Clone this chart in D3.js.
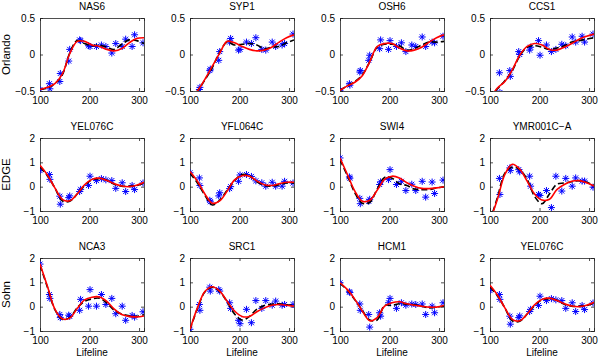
<!DOCTYPE html>
<html>
<head>
<meta charset="utf-8">
<script src="https://cdn.jsdelivr.net/npm/d3@7"></script>
<style>
body { margin: 0; background: #fff; }
text { font-family: "Liberation Sans", Arial, sans-serif; }
</style>
</head>
<body>
<div id="chart"></div>
<script>
// sample times (shared by every gene) and the x positions of the fitted curves
var times = [100, 119, 120, 140, 141, 158, 160, 180, 182, 198, 201, 214, 224, 233, 245, 253, 266, 273, 286, 291, 308];
var fitX = [100, 115, 130, 145, 160, 175, 190, 205, 220, 235, 250, 265, 280, 295, 310];

var rowLabels = ["Orlando", "EDGE", "Sohn"];
var yDomains = [[-0.5, 0.5], [-1, 2], [-1, 2]];
var yTicks = [[-0.5, 0, 0.5], [-1, 0, 1, 2], [-1, 0, 1, 2]];
var xTicks = [100, 200, 300];
var xDomain = [100, 310];

// Orlando
var nas6Pts = [-0.48, -0.40, -0.47, -0.37, -0.26, -0.09, 0.07, 0.20, 0.19, 0.12, 0.11, 0.11, 0.13, 0.11, 0.02, 0.15, 0.11, 0.21, 0.11, 0.27, 0.16];
var nas6Red = [-0.48, -0.45, -0.40, -0.27, 0.01, 0.18, 0.18, 0.13, 0.11, 0.07, 0.05, 0.08, 0.16, 0.22, 0.23];
var nas6Black = [-0.48, -0.46, -0.40, -0.28, 0.02, 0.19, 0.15, 0.12, 0.13, 0.10, 0.07, 0.14, 0.20, 0.19, 0.15];

var syp1Pts = [-0.62, -0.48, -0.45, -0.22, -0.20, -0.08, 0.04, 0.17, 0.22, 0.06, 0.07, 0.17, 0.15, 0.23, 0.07, 0.06, 0.17, 0.11, 0.13, 0.15, 0.28];
var syp1Red = [-0.62, -0.50, -0.34, -0.16, 0.02, 0.18, 0.16, 0.11, 0.07, 0.05, 0.06, 0.10, 0.17, 0.23, 0.27];
var syp1Black = [-0.62, -0.50, -0.35, -0.18, 0.03, 0.17, 0.13, 0.14, 0.15, 0.13, 0.08, 0.10, 0.11, 0.16, 0.20];

var osh6Pts = [-0.49, -0.40, -0.42, -0.24, -0.22, -0.08, -0.01, 0.08, 0.20, 0.07, 0.19, 0.11, 0.16, 0.04, 0.13, 0.11, 0.24, 0.11, 0.17, 0.16, 0.25];
var osh6Red = [-0.49, -0.43, -0.38, -0.29, -0.10, 0.11, 0.15, 0.15, 0.09, 0.05, 0.06, 0.10, 0.17, 0.23, 0.27];
var osh6Black = [-0.49, -0.43, -0.37, -0.28, -0.10, 0.10, 0.14, 0.14, 0.12, 0.06, 0.08, 0.13, 0.17, 0.17, 0.18];

var ccs1Pts = [-0.65, -0.25, -0.52, -0.22, -0.30, 0.04, 0.00, 0.06, 0.10, 0.19, -0.01, 0.13, 0.04, 0.07, 0.14, 0.12, 0.24, 0.17, 0.25, 0.17, 0.28];
var ccs1Red = [-0.60, -0.46, -0.37, -0.21, -0.01, 0.11, 0.15, 0.13, 0.07, 0.06, 0.10, 0.15, 0.21, 0.25, 0.28];
var ccs1Black = [-0.60, -0.47, -0.36, -0.22, -0.02, 0.10, 0.12, 0.10, 0.07, 0.09, 0.12, 0.17, 0.19, 0.21, 0.23];

// EDGE
var yel076cPts = [0.66, 0.50, 0.30, -0.39, -0.72, -0.45, -0.38, -0.20, -0.11, 0.05, 0.43, 0.25, 0.33, 0.28, 0.25, -0.07, 0.16, -0.20, 0.05, -0.12, 0.15];
var yel076cRed = [0.88, 0.48, -0.05, -0.52, -0.58, -0.30, 0.08, 0.30, 0.35, 0.25, 0.12, 0.03, 0.00, 0.06, 0.18];
var yel076cBlack = [0.80, 0.45, -0.05, -0.58, -0.60, -0.30, 0.05, 0.28, 0.33, 0.26, 0.10, 0.02, 0.02, 0.05, 0.15];

var yfl064cPts = [0.57, 0.36, 0.05, -0.56, -0.62, -0.38, -0.25, -0.08, 0.00, 0.22, 0.48, 0.50, 0.42, 0.24, 0.16, 0.02, 0.18, 0.02, 0.02, 0.22, 0.15];
var yfl064cRed = [0.62, 0.22, -0.30, -0.68, -0.58, -0.18, 0.28, 0.45, 0.43, 0.24, 0.08, 0.05, 0.12, 0.18, 0.18];
var yfl064cBlack = [0.55, 0.15, -0.35, -0.75, -0.55, -0.15, 0.25, 0.50, 0.45, 0.20, 0.05, 0.02, 0.08, 0.15, 0.15];

var swi4Pts = [1.18, 0.40, 0.35, -0.48, -0.70, -0.60, -0.52, 0.09, 0.20, 0.29, 0.70, 0.09, 0.22, -0.16, 0.10, -0.16, 0.22, -0.43, 0.19, -0.28, 0.27];
var swi4Red = [1.18, 0.50, -0.18, -0.60, -0.56, -0.15, 0.30, 0.43, 0.36, 0.16, 0.02, -0.07, -0.08, -0.05, 0.00];
var swi4Black = [1.10, 0.45, -0.25, -0.68, -0.65, -0.10, 0.38, 0.35, 0.12, 0.05, -0.10, -0.12, -0.12, -0.05, 0.00];

var ymr001cPts = [-1.30, 0.34, -0.32, 0.77, 0.66, 0.70, 0.61, 0.43, 0.02, -0.32, -0.36, -0.16, -0.86, 0.43, -0.18, 0.34, 0.02, 0.36, 0.23, 0.23, -0.02];
var ymr001cRed = [-1.40, -0.52, 0.50, 0.92, 0.72, 0.23, -0.30, -0.55, -0.52, -0.12, 0.09, 0.22, 0.25, 0.16, 0.03];
var ymr001cBlack = [-1.40, -0.45, 0.55, 0.80, 0.70, 0.30, -0.40, -0.70, -0.30, 0.10, 0.15, 0.20, 0.25, 0.18, 0.05];

// Sohn
var nca3Pts = [1.75, 0.50, 0.34, -0.32, -0.45, -0.35, -0.40, -0.15, 0.30, 0.02, 0.70, 0.02, 0.50, 0.09, 0.34, -0.29, 0.02, -0.56, -0.36, -0.43, -0.21];
var nca3Red = [1.75, 0.84, -0.10, -0.50, -0.47, -0.08, 0.28, 0.39, 0.40, 0.22, -0.10, -0.32, -0.40, -0.42, -0.38];
var nca3Black = [1.70, 0.80, -0.12, -0.52, -0.45, -0.05, 0.22, 0.32, 0.35, 0.15, -0.15, -0.30, -0.38, -0.40, -0.33];

var src1Pts = [-0.93, 0.09, -0.15, 0.80, 0.64, 0.70, 0.64, 0.16, -0.07, -0.56, -0.70, -0.11, -0.66, 0.25, -0.07, 0.25, 0.06, 0.23, 0.06, 0.09, 0.09];
var src1Red = [-0.93, -0.05, 0.62, 0.82, 0.64, 0.22, -0.18, -0.40, -0.40, -0.21, -0.05, 0.06, 0.09, 0.06, 0.02];
var src1Black = [-0.95, -0.08, 0.60, 0.80, 0.62, 0.20, -0.30, -0.55, -0.40, -0.10, 0.05, 0.10, 0.12, 0.08, 0.05];

var hcm1Pts = [0.98, 0.61, 0.58, 0.11, -0.15, -0.32, -0.84, -0.25, -0.39, 0.16, 0.34, -0.07, 0.16, 0.06, 0.11, 0.09, 0.11, -0.32, 0.02, -0.25, 0.16];
var hcm1Red = [0.98, 0.70, 0.30, -0.18, -0.58, -0.45, 0.02, 0.16, 0.20, 0.12, 0.06, 0.02, -0.02, -0.02, 0.05];
var hcm1Black = [0.95, 0.68, 0.28, -0.15, -0.55, -0.55, 0.05, 0.05, 0.12, 0.10, 0.08, 0.02, -0.05, -0.02, 0.02];

var panels = [
    { name: "NAS6", pts: nas6Pts, red: nas6Red, black: nas6Black },
    { name: "SYP1", pts: syp1Pts, red: syp1Red, black: syp1Black },
    { name: "OSH6", pts: osh6Pts, red: osh6Red, black: osh6Black },
    { name: "CCS1", pts: ccs1Pts, red: ccs1Red, black: ccs1Black },
    { name: "YEL076C", pts: yel076cPts, red: yel076cRed, black: yel076cBlack },
    { name: "YFL064C", pts: yfl064cPts, red: yfl064cRed, black: yfl064cBlack },
    { name: "SWI4", pts: swi4Pts, red: swi4Red, black: swi4Black },
    { name: "YMR001C\u2212A", pts: ymr001cPts, red: ymr001cRed, black: ymr001cBlack },
    { name: "NCA3", pts: nca3Pts, red: nca3Red, black: nca3Black },
    { name: "SRC1", pts: src1Pts, red: src1Red, black: src1Black },
    { name: "HCM1", pts: hcm1Pts, red: hcm1Red, black: hcm1Black },
    { name: "YEL076C", pts: yel076cPts, red: yel076cRed, black: yel076cBlack }
];

var colX = [40, 190, 340, 490];
var rowY = [18, 138, 258];
var pw = 104, ph = 73;

var svg = d3.select("#chart")
    .append("svg")
    .attr("width", 600)
    .attr("height", 359);

// asterisk marker like matlab's '*'
var s = 3.5, a = 2.5;
var star = "M" + -s + ",0L" + s + ",0M0," + -s + "L0," + s +
    "M" + -a + "," + -a + "L" + a + "," + a + "M" + -a + "," + a + "L" + a + "," + -a;

panels.forEach(function (p, i) {
    var r = Math.floor(i / 4), c = i % 4;
    var g = svg.append("g")
        .attr("transform", "translate(" + colX[c] + "," + rowY[r] + ")");

    var x = d3.scaleLinear().domain(xDomain).range([0, pw]);
    var y = d3.scaleLinear().domain(yDomains[r]).range([ph, 0]);
    var fmt = d3.format("");

    svg.append("clipPath").attr("id", "clip" + i)
        .append("rect").attr("width", pw).attr("height", ph);

    // axes, ticks pointing inward, box all round
    g.append("g").attr("class", "ax")
        .call(d3.axisLeft(y).tickValues(yTicks[r]).tickSize(-3).tickPadding(5).tickFormat(fmt));
    g.append("g").attr("class", "ax").attr("transform", "translate(" + pw + ",0)")
        .call(d3.axisRight(y).tickValues(yTicks[r]).tickSize(-3).tickFormat(""));
    g.append("g").attr("class", "ax").attr("transform", "translate(0," + ph + ")")
        .call(d3.axisBottom(x).tickValues(xTicks).tickSize(-3).tickPadding(6).tickFormat(fmt));
    g.append("g").attr("class", "ax")
        .call(d3.axisTop(x).tickValues(xTicks).tickSize(-3).tickFormat(""));

    var plot = g.append("g").attr("clip-path", "url(#clip" + i + ")");

    plot.selectAll("path.pt")
        .data(p.pts)
        .enter().append("path")
        .attr("class", "pt")
        .attr("d", star)
        .attr("transform", function (d, j) { return "translate(" + x(times[j]) + "," + y(d) + ")"; })
        .style("stroke", "#0000ff")
        .style("stroke-width", 1)
        .style("fill", "none");

    var line = d3.line()
        .x(function (d, j) { return x(fitX[j]); })
        .y(function (d) { return y(d); })
        .curve(d3.curveCatmullRom);

    plot.append("path")
        .attr("d", line(p.black))
        .style("fill", "none")
        .style("stroke", "#000")
        .style("stroke-width", 1.6)
        .style("stroke-dasharray", "6,3");

    plot.append("path")
        .attr("d", line(p.red))
        .style("fill", "none")
        .style("stroke", "#ff0000")
        .style("stroke-width", 1.6);

    g.append("text")
        .attr("x", pw / 2)
        .attr("y", -8)
        .attr("text-anchor", "middle")
        .style("font-size", "10px")
        .text(p.name);

    if (c == 0) {
        g.append("text")
            .attr("transform", "translate(" + (10 - colX[0]) + "," + (ph / 2) + ") rotate(-90)")
            .attr("text-anchor", "middle")
            .style("font-size", "11.5px")
            .text(rowLabels[r]);
    }
    if (r == 2) {
        g.append("text")
            .attr("x", pw / 2)
            .attr("y", ph + 25)
            .attr("text-anchor", "middle")
            .style("font-size", "10px")
            .text("Lifeline");
    }
});

svg.selectAll(".ax text")
    .style("font-size", "10px")
    .style("font-family", "'Liberation Sans', Arial, sans-serif")
    .style("fill", "#000");
svg.selectAll(".ax path, .ax line")
    .style("stroke", "#222")
    .style("stroke-width", 0.8);
</script>
</body>
</html>
